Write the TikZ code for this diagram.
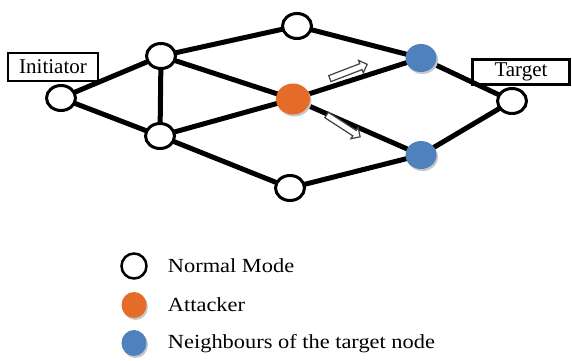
\documentclass[tikz,border=0pt]{standalone}
\usepackage{fontspec}
\setmainfont{Liberation Serif}
\usetikzlibrary{shapes.geometric,shapes.arrows,shadows,backgrounds}
\definecolor{naranja}{RGB}{228,108,40}
\definecolor{azul}{RGB}{79,129,189}
\begin{document}
\begin{tikzpicture}[x=1pt,y=-1pt,
  nodo/.style={ellipse,draw=black,line width=3pt,fill=white,minimum width=29pt,minimum height=25pt,inner sep=0pt},
  coloreado/.style={ellipse,fill=#1,minimum width=31pt,minimum height=28pt,inner sep=0pt,
    drop shadow={shadow xshift=1.5pt,shadow yshift=-2pt,fill=black!22,opacity=1}},
  enlace/.style={line width=5pt},
  etiqueta/.style={draw=black,line width=2.5pt,font=\fontsize{21}{24}\selectfont,minimum width=90pt,minimum height=28pt,inner sep=2pt},
  flecha/.style={single arrow,draw=black!75,line width=1.2pt,fill=white,minimum height=40pt,inner sep=2.6pt,single arrow head extend=3.5pt},
  leyenda/.style={anchor=west,font=\fontsize{20}{24}\selectfont,xscale=1.12}]
\useasboundingbox (0,0) rectangle (572,360);
%
% red
\node[nodo] (init) at (61,98) {};
\node[nodo] (a) at (161,56) {};
\node[nodo] (b) at (160,136) {};
\node[nodo] (arriba) at (297,26) {};
\node[coloreado=naranja,minimum width=34pt,minimum height=31pt] (atac) at (293,99) {};
\node[nodo] (abajo) at (290,188) {};
\node[coloreado=azul] (vec1) at (421,58) {};
\node[coloreado=azul] (vec2) at (421,155) {};
\node[nodo] (dest) at (512,101) {};
%
\begin{scope}[on background layer]
\foreach \u/\v in {init/a,init/b,a/b,a/arriba,a/atac,b/atac,b/abajo,
  arriba/vec1,atac/vec1,atac/vec2,abajo/vec2,vec1/dest,vec2/dest}
\draw[enlace] (\u.center) -- (\v.center);
\end{scope}
%
\node[etiqueta] (ini) at (53,67) {Initiator};
\node[etiqueta,minimum width=97pt,minimum height=25pt] (obj) at (521,72) {Target};
%
\node[flecha,rotate=21] (f1) at (347,72) {};
\node[flecha,rotate=-33] (f2) at (342,125) {};
%
% leyenda
\node[nodo,minimum width=25pt,minimum height=25pt,line width=2.5pt] (l1) at (134,266) {};
\node[coloreado=naranja,minimum width=25pt,minimum height=26pt] (l2) at (134,305) {};
\node[coloreado=azul,minimum width=25pt,minimum height=26pt] (l3) at (134,343) {};
\node[leyenda] (t1) at (164,266) {Normal Mode};
\node[leyenda] (t2) at (164,305) {Attacker};
\node[leyenda] (t3) at (164,344) {Neighbours of the target node};
\end{tikzpicture}
\end{document}
